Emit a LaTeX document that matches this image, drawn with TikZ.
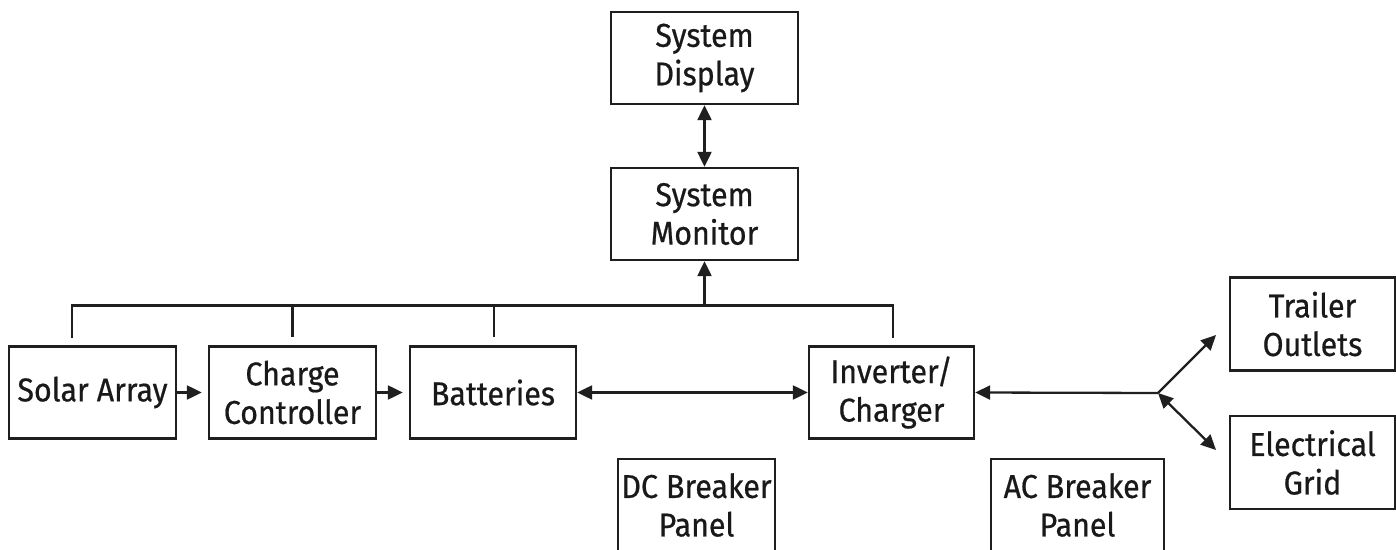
\documentclass[tikz,border=0pt]{standalone}
\usepackage{fontspec}
\setmainfont{Fira Sans}[FakeStretch=0.92, FakeBold=0.6]
\usetikzlibrary{arrows.meta}
\begin{document}
\begin{tikzpicture}[x=0.5pt,y=-0.5pt,
  box/.style={draw=black!88, line width=1.2pt, inner sep=0pt, align=center,
    font=\fontsize{16.5}{19.25}\selectfont, text=black!90},
  conn/.style={draw=black!88, line width=1.15pt},
  tip/.style={-{Triangle[length=7.5pt,width=7pt]}},
  dtip/.style={{Triangle[length=7.5pt,width=7pt]}-{Triangle[length=7.5pt,width=7pt]}}]
\useasboundingbox (0,0) rectangle (1396,550);
\node[box, minimum width=93.5pt, minimum height=46pt] (disp) at (704.5,58) {System\\Display};
\node[box, minimum width=93.5pt, minimum height=46pt] (mon) at (704.5,214) {System\\Monitor};
\node[box, minimum width=83.5pt, minimum height=46pt] (solar) at (92.5,392.5) {Solar Array};
\node[box, minimum width=83.5pt, minimum height=46pt] (charge) at (292.5,392.5) {Charge\\Controller};
\node[box, minimum width=83pt, minimum height=46pt] (batt) at (493,392.5) {Batteries};
\node[box, minimum width=82.5pt, minimum height=46pt] (inv) at (891.5,392.5) {Inverter/\\Charger};
\node[box, minimum width=82.5pt, minimum height=46.5pt] (trail) at (1312.5,324) {Trailer\\Outlets};
\node[box, minimum width=82.5pt, minimum height=46.5pt] (grid) at (1312.5,462.5) {Electrical\\Grid};
\node[box, minimum width=78.5pt, minimum height=46pt] (dc) at (696.5,505) {DC Breaker\\Panel};
\node[box, minimum width=86.5pt, minimum height=46pt] (ac) at (1077.5,505) {AC Breaker\\Panel};
% bus
\coordinate (bs) at (72,305.5);
\coordinate (be) at (893,305.5);
\coordinate (bm) at (704.5,305.5);
\draw[conn, line cap=rect] (72,337) -- (bs) -- (be) -- (893,337);
\draw[conn] (292.5,305.5) -- (292.5,337);
\draw[conn] (494,305.5) -- (494,337);
\draw[conn, tip] (bm) -- (mon.south);
\draw[conn, dtip] (disp.south) -- (mon.north);
\draw[conn, tip, shorten >=3pt] (solar.east) -- (charge.west);
\draw[conn, tip, shorten >=3pt] (charge.east) -- (batt.west);
\draw[conn, dtip] (batt.east) -- (inv.west);
\coordinate (j) at (1158,393);
\coordinate (tu) at (1216,335);
\coordinate (td) at (1216,450);
\draw[conn, tip] (j) -- (inv.east);
\draw[conn, tip] (j) -- (tu);
\draw[conn, dtip] (j) -- (td);
\end{tikzpicture}
\end{document}
